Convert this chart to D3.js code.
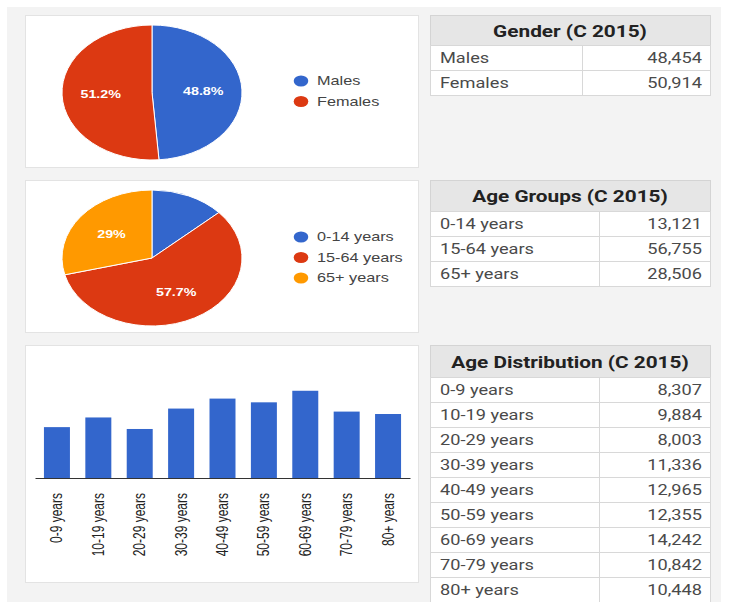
<!DOCTYPE html>
<html>
<head>
<meta charset="utf-8">
<script src="https://cdn.jsdelivr.net/npm/d3@7"></script>
<style>
  html, body { margin: 0; padding: 0; background: #fff; }
  svg { display: block; }
</style>
</head>
<body>
<svg id="chart" width="731" height="602"></svg>
<script>
  // census 2015 figures
  var genderLabels = ['Males', 'Females'];
  var genderValues = [48454, 50914];

  var groupLabels = ['0-14 years', '15-64 years', '65+ years'];
  var groupValues = [13121, 56755, 28506];

  var distLabels = ['0-9 years', '10-19 years', '20-29 years', '30-39 years', '40-49 years',
                    '50-59 years', '60-69 years', '70-79 years', '80+ years'];
  var distValues = [8307, 9884, 8003, 11336, 12965, 12355, 14242, 10842, 10448];

  var colors = ['#3366cc', '#dc3912', '#ff9900'];

  // the screenshot is stretched sideways, text gets the same treatment
  var K = 1.3;
  var chartFont = '"Liberation Sans", Arial, sans-serif',
      tableFont = 'Roboto, "Liberation Sans", sans-serif';

  var svg = d3.select('#chart');

  svg.append('rect')
      .attr('x', 7).attr('y', 7)
      .attr('width', 714).attr('height', 610)
      .attr('fill', '#f3f3f3');

  function panel(x, y, w, h) {
    svg.append('rect')
        .attr('x', x + 0.5).attr('y', y + 0.5)
        .attr('width', w).attr('height', h)
        .attr('fill', '#fff')
        .attr('stroke', '#e3e3e3');
  }

  function stretch(x, y) {
    return 'translate(' + x + ',' + y + ') scale(' + K + ',1)';
  }

  var pct = function (v) {
    return d3.format('.1f')(v * 100).replace(/\.0$/, '') + '%';
  };

  function drawPie(labels, values, cx, cy, rx, ry, legendX, legendY) {
    var total = d3.sum(values),
        pie = d3.pie().sort(null)(values),
        arc = d3.arc().innerRadius(0).outerRadius(rx),
        labelArc = d3.arc().innerRadius(rx * 0.57).outerRadius(rx * 0.57);

    var g = svg.append('g')
        .attr('transform', 'translate(' + cx + ',' + cy + ') scale(1,' + (ry / rx) + ')');

    g.selectAll('path')
        .data(pie)
        .enter().append('path')
        .attr('d', arc)
        .attr('fill', function (d, i) { return colors[i]; })
        .attr('stroke', '#fff')
        .attr('stroke-width', 1)
        .attr('vector-effect', 'non-scaling-stroke');

    svg.selectAll(null)
        .data(pie.filter(function (d) { return d.value / total >= 0.2; }))
        .enter().append('text')
        .attr('transform', function (d) {
          var c = labelArc.centroid(d);
          return stretch(cx + c[0], cy + c[1] * ry / rx);
        })
        .attr('text-anchor', 'middle')
        .attr('dy', '0.35em')
        .style('font-family', chartFont)
        .style('font-size', '11px')
        .style('font-weight', 'bold')
        .attr('fill', '#fff')
        .text(function (d) { return pct(d.value / total); });

    var legend = svg.selectAll(null)
        .data(labels)
        .enter().append('g')
        .attr('transform', function (d, i) { return 'translate(0,' + (legendY + i * 20.5) + ')'; });

    legend.append('ellipse')
        .attr('cx', legendX)
        .attr('cy', 0)
        .attr('rx', 5.6 * K)
        .attr('ry', 5.6)
        .attr('fill', function (d, i) { return colors[i]; });

    legend.append('text')
        .attr('transform', stretch(legendX + 16, 0))
        .attr('dy', '0.35em')
        .style('font-family', chartFont)
        .style('font-size', '12.5px')
        .attr('fill', '#444')
        .text(function (d) { return d; });
  }

  function drawTable(title, labels, values, x, y, w, split, headH, rowH) {
    var g = svg.append('g');

    g.append('rect')
        .attr('x', x + 0.5).attr('y', y + 0.5)
        .attr('width', w).attr('height', headH)
        .attr('fill', '#e6e6e6')
        .attr('stroke', '#d4d4d4');

    g.append('text')
        .attr('transform', stretch(x + w / 2, y + headH / 2 + 1))
        .attr('text-anchor', 'middle')
        .attr('dy', '0.35em')
        .style('font-family', tableFont)
        .style('font-size', '16px')
        .style('font-weight', 'bold')
        .attr('fill', '#222')
        .text(title);

    var rows = g.selectAll('g.row')
        .data(labels)
        .enter().append('g')
        .attr('class', 'row')
        .attr('transform', function (d, i) { return 'translate(0,' + (y + headH + i * rowH) + ')'; });

    rows.append('rect')
        .attr('x', x + 0.5).attr('y', 0.5)
        .attr('width', split - x).attr('height', rowH)
        .attr('fill', '#fff')
        .attr('stroke', '#d8d8d8');

    rows.append('rect')
        .attr('x', split + 0.5).attr('y', 0.5)
        .attr('width', x + w - split).attr('height', rowH)
        .attr('fill', '#fff')
        .attr('stroke', '#d8d8d8');

    rows.append('text')
        .attr('transform', stretch(x + 10, rowH / 2 + 1))
        .attr('dy', '0.35em')
        .style('font-family', tableFont)
        .style('font-size', '14px')
        .attr('fill', '#4a4a4a')
        .text(function (d) { return d; });

    rows.append('text')
        .attr('transform', stretch(x + w - 8, rowH / 2 + 1))
        .attr('text-anchor', 'end')
        .attr('dy', '0.35em')
        .style('font-family', tableFont)
        .style('font-size', '14px')
        .attr('fill', '#4a4a4a')
        .text(function (d, i) { return d3.format(',')(values[i]); });
  }

  panel(25, 15, 393, 152);
  panel(25, 180, 393, 152);
  panel(25, 345, 393, 237);

  drawPie(genderLabels, genderValues, 152, 92.5, 90, 67.5, 301, 81);
  drawPie(groupLabels, groupValues, 152, 258, 90, 68, 301, 237);

  // bar chart
  var x = d3.scaleBand()
      .domain(distLabels)
      .range([35, 410])
      .paddingInner(0.372)
      .paddingOuter(0.216);

  var y = d3.scaleLinear()
      .domain([0, 16000])
      .range([478, 380]);

  svg.append('g')
      .selectAll('rect')
      .data(distValues)
      .enter().append('rect')
      .attr('x', function (d, i) { return x(distLabels[i]); })
      .attr('y', function (d) { return y(d); })
      .attr('width', x.bandwidth())
      .attr('height', function (d) { return y(0) - y(d); })
      .attr('fill', colors[0]);

  var axis = svg.append('g')
      .attr('transform', 'translate(0,' + y(0) + ')')
      .call(d3.axisBottom(x).tickSize(0).tickSizeOuter(0));

  axis.select('.domain').attr('stroke', '#333');
  axis.selectAll('.tick text')
      .attr('x', 0).attr('y', 0)
      .attr('dy', '0.35em')
      .attr('transform', 'translate(0,15) scale(' + K + ',1) rotate(-90)')
      .attr('text-anchor', 'end')
      .style('font-family', chartFont)
      .style('font-size', '12px')
      .attr('fill', '#222');

  drawTable('Gender (C 2015)', genderLabels, genderValues, 430, 15, 280, 582, 30, 25);
  drawTable('Age Groups (C 2015)', groupLabels, groupValues, 430, 180, 280, 599, 31, 25);
  drawTable('Age Distribution (C 2015)', distLabels, distValues, 430, 345, 280, 599, 32, 25);
</script>
</body>
</html>
